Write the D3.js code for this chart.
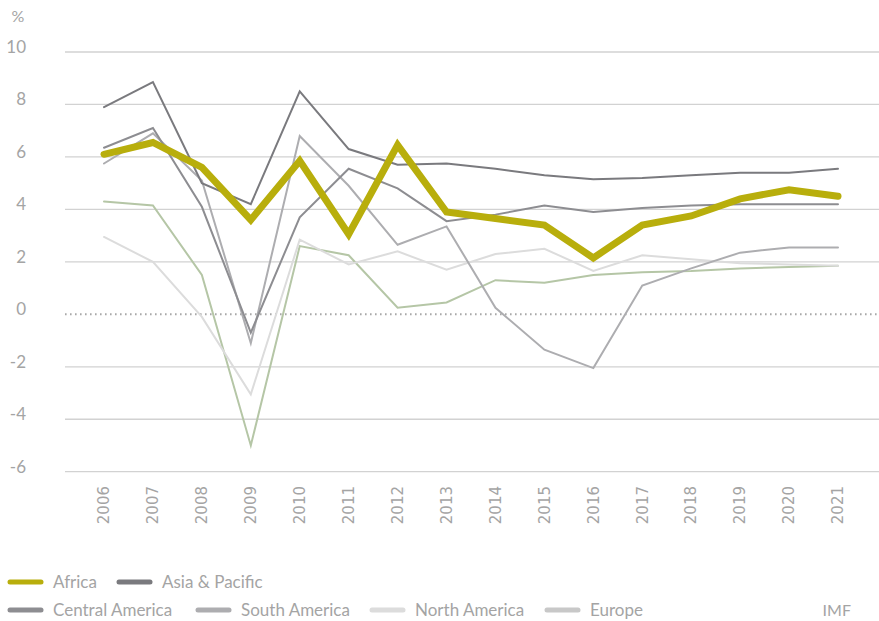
<!DOCTYPE html>
<html lang="en">

<head>
    <meta charset="UTF-8">
    <title>Growth by region</title>
    <style>
        body { margin: 0; background: #fff; }
        svg { display: block; }
    </style>
</head>

<body>
    <script src="https://d3js.org/d3.v7.min.js"></script>
    <script>
        const years = ["2006", "2007", "2008", "2009", "2010", "2011", "2012", "2013",
            "2014", "2015", "2016", "2017", "2018", "2019", "2020", "2021"];
        const yTicks = [-6, -4, -2, 0, 2, 4, 6, 8, 10];

        const africa = [6.1, 6.55, 5.6, 3.6, 5.85, 3.05, 6.45, 3.9, 3.65, 3.4, 2.15, 3.4, 3.75, 4.4, 4.75, 4.5];
        const asiaPacific = [7.9, 8.85, 5.0, 4.2, 8.5, 6.3, 5.7, 5.75, 5.55, 5.3, 5.15, 5.2, 5.3, 5.4, 5.4, 5.55];
        const centralAmerica = [6.35, 7.1, 4.1, -0.7, 3.7, 5.55, 4.8, 3.55, 3.8, 4.15, 3.9, 4.05, 4.15, 4.2, 4.2, 4.2];
        const southAmerica = [5.75, 6.9, 5.1, -1.1, 6.8, 4.9, 2.65, 3.35, 0.25, -1.35, -2.05, 1.1, 1.75, 2.35, 2.55, 2.55];
        const northAmerica = [2.95, 2.0, -0.1, -3.05, 2.85, 1.9, 2.4, 1.7, 2.3, 2.5, 1.65, 2.25, 2.1, 1.95, 1.9, 1.85];
        const europe = [4.3, 4.15, 1.5, -5.0, 2.6, 2.25, 0.25, 0.45, 1.3, 1.2, 1.5, 1.6, 1.65, 1.75, 1.8, 1.85];

        const series = [
            { name: "Europe", values: europe, color: "#b5c6a6", key: "#c8c8c8", width: 2 },
            { name: "North America", values: northAmerica, color: "#dcdcdc", key: "#dcdcdc", width: 2 },
            { name: "South America", values: southAmerica, color: "#adadb0", key: "#adadb0", width: 2 },
            { name: "Central America", values: centralAmerica, color: "#8d8d91", key: "#8d8d91", width: 2 },
            { name: "Asia & Pacific", values: asiaPacific, color: "#7a7a7e", key: "#7a7a7e", width: 2 },
            { name: "Africa", values: africa, color: "#b8ae0c", key: "#b8ae0c", width: 7 }
        ];

        const width = 879, height = 621;
        const textGrey = "#a4a4a4";
        const labelFont = "Lato, 'Open Sans', sans-serif";

        const svg = d3.select("body").append("svg")
            .attr("width", width)
            .attr("height", height);

        const x = d3.scalePoint().domain(years).range([104, 838]);
        const y = d3.scaleLinear().domain([-6, 10]).range([471.7, 52]);

        // grid lines
        svg.append("g").selectAll("line")
            .data(yTicks)
            .enter().append("line")
            .attr("x1", 65).attr("x2", width)
            .attr("y1", d => y(d)).attr("y2", d => y(d))
            .attr("stroke", d => d === 0 ? "#a8a8a8" : "#d2d2d2")
            .attr("stroke-width", d => d === 0 ? 2 : 1.3)
            .attr("stroke-dasharray", d => d === 0 ? "1.6,3.4" : null);

        // y axis labels
        svg.append("g").selectAll("text")
            .data(yTicks)
            .enter().append("text")
            .attr("x", 26)
            .attr("y", d => y(d) + 1)
            .attr("text-anchor", "end")
            .attr("fill", textGrey)
            .style("font", "17px " + labelFont)
            .text(d => d);

        svg.append("text")
            .attr("x", 18).attr("y", 22)
            .attr("text-anchor", "middle")
            .attr("fill", textGrey)
            .style("font", "16px " + labelFont)
            .text("%");

        // x axis labels
        svg.append("g").selectAll("text")
            .data(years)
            .enter().append("text")
            .attr("transform", d => "translate(" + x(d) + ",486) rotate(-90)")
            .attr("dy", "0.35em")
            .attr("text-anchor", "end")
            .attr("fill", textGrey)
            .style("font", "15px 'DejaVu Sans', sans-serif")
            .text(d => d);

        // lines
        const line = d3.line()
            .x((d, i) => x(years[i]))
            .y(d => y(d));

        svg.append("g").selectAll("path")
            .data(series)
            .enter().append("path")
            .attr("d", d => line(d.values))
            .attr("fill", "none")
            .attr("stroke", d => d.color)
            .attr("stroke-width", d => d.width)
            .attr("stroke-linejoin", "miter")
            .attr("stroke-linecap", "round");

        // legend
        const legendItems = [
            { name: "Africa", x: 8, y: 582 },
            { name: "Asia & Pacific", x: 117, y: 582 },
            { name: "Central America", x: 8, y: 610 },
            { name: "South America", x: 196, y: 610 },
            { name: "North America", x: 370, y: 610 },
            { name: "Europe", x: 545, y: 610 }
        ];
        const lg = svg.append("g").selectAll("g")
            .data(legendItems)
            .enter().append("g")
            .attr("transform", d => "translate(" + d.x + "," + d.y + ")");
        lg.append("line")
            .attr("x1", 2).attr("x2", 33)
            .attr("stroke", d => series.find(s => s.name === d.name).key)
            .attr("stroke-width", 5)
            .attr("stroke-linecap", "round");
        lg.append("text")
            .attr("x", 45)
            .attr("dy", "0.35em")
            .attr("fill", textGrey)
            .style("font", "17px " + labelFont)
            .text(d => d.name);

        svg.append("text")
            .attr("x", 851).attr("y", 610)
            .attr("dy", "0.35em")
            .attr("text-anchor", "end")
            .attr("fill", textGrey)
            .style("font", "16px " + labelFont)
            .text("IMF");
    </script>
</body>

</html>
